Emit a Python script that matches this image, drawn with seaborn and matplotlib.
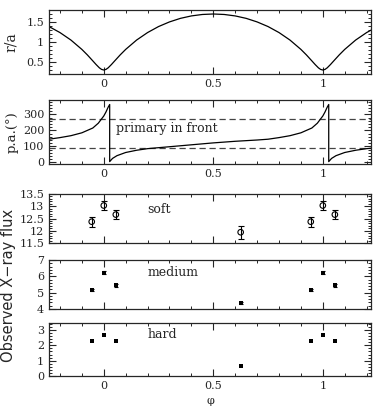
import matplotlib
matplotlib.use("Agg")
import matplotlib.pyplot as plt
from matplotlib.ticker import MultipleLocator
import seaborn as sns

# orbital separation r/a vs phase
sep_phase = [-0.25, -0.2, -0.15, -0.1, -0.075, -0.05, -0.035, -0.02, -0.01, 0.0,
             0.01, 0.02, 0.035, 0.05, 0.075, 0.1, 0.15, 0.2, 0.25, 0.3, 0.35,
             0.4, 0.45, 0.5, 0.55, 0.6, 0.65, 0.7, 0.75, 0.8, 0.85, 0.9, 0.925,
             0.95, 0.965, 0.98, 0.99, 1.0, 1.01, 1.02, 1.035, 1.05, 1.075, 1.1,
             1.15, 1.2, 1.25]
sep_r = [1.386, 1.236, 1.049, 0.815, 0.678, 0.528, 0.437, 0.354, 0.315, 0.300,
         0.315, 0.354, 0.437, 0.528, 0.678, 0.815, 1.049, 1.236, 1.386, 1.502, 1.591,
         1.652, 1.688, 1.700, 1.688, 1.652, 1.591, 1.502, 1.386, 1.236, 1.049, 0.815, 0.678,
         0.528, 0.437, 0.354, 0.315, 0.300, 0.315, 0.354, 0.437, 0.528, 0.678, 0.815,
         1.049, 1.236, 1.386]

# position angle vs phase
pa_phase = [-0.25, -0.2, -0.15, -0.1, -0.05, -0.025, 0.0, 0.01, 0.02, 0.027, 0.027,
            0.04, 0.06, 0.1, 0.15, 0.2, 0.3, 0.4, 0.5, 0.6, 0.7, 0.75, 0.8, 0.85,
            0.9, 0.95, 0.975, 1.0, 1.01, 1.02, 1.027, 1.027, 1.04, 1.06, 1.1, 1.15,
            1.2, 1.25]
pa_deg = [145, 155, 167, 185, 215, 245, 290, 315, 345, 362, 5,
          25, 42, 62, 76, 86, 98, 110, 122, 132, 140, 145, 155, 167,
          185, 215, 245, 290, 315, 345, 362, 5, 25, 42, 62, 76,
          86, 92]
pa_lines = [90, 270]

# X-ray fluxes
obs_phase = [-0.055, 0.0, 0.055, 0.625, 0.945, 1.0, 1.055]
soft = [12.37, 13.03, 12.66, 11.94, 12.37, 13.03, 12.66]
soft_err = [0.2, 0.2, 0.2, 0.27, 0.2, 0.2, 0.2]
medium = [5.17, 6.22, 5.45, 4.38, 5.17, 6.22, 5.45]
medium_err = [0.08, 0.1, 0.08, 0.05, 0.08, 0.1, 0.08]
hard = [2.26, 2.68, 2.26, 0.64, 2.26, 2.68, 2.26]

sns.set_style("ticks")
plt.rcParams['font.family'] = ['DejaVu Serif']
plt.rcParams['axes.linewidth'] = 0.9
for a in ['x', 'y']:
    plt.rcParams[a + 'tick.direction'] = 'in'
    plt.rcParams[a + 'tick.major.size'] = 5
    plt.rcParams[a + 'tick.minor.size'] = 2.5
    plt.rcParams[a + 'tick.major.width'] = 0.8
    plt.rcParams[a + 'tick.minor.width'] = 0.7
    plt.rcParams[a + 'tick.labelsize'] = 8
plt.rcParams['xtick.top'] = True
plt.rcParams['ytick.right'] = True

fig = plt.figure(figsize=(3.79, 4.08), dpi=100)
L, W = 0.1293, 0.8496
axs = [fig.add_axes([L, 0.8186, W, 0.1569]),
       fig.add_axes([L, 0.598, W, 0.1569]),
       fig.add_axes([L, 0.4044, W, 0.1201]),
       fig.add_axes([L, 0.2426, W, 0.1201]),
       fig.add_axes([L, 0.0784, W, 0.1299])]

# panel 1
ax = axs[0]
sns.lineplot(x=sep_phase, y=sep_r, ax=ax, color='black', lw=0.9, sort=False, estimator=None)
ax.set_ylim(0.2, 1.8)
ax.yaxis.set_minor_locator(MultipleLocator(0.1))
ax.set_yticks([0.5, 1.0, 1.5], ['0.5', '1', '1.5'])
ax.set_ylabel('r/a', fontsize=10, labelpad=6)

# panel 2
ax = axs[1]
for v in pa_lines:
    ax.axhline(v, color='#444444', lw=0.9, ls=(0, (5, 3)))
sns.lineplot(x=pa_phase, y=pa_deg, ax=ax, color='black', lw=0.9, sort=False, estimator=None)
ax.set_ylim(-10, 390)
ax.yaxis.set_minor_locator(MultipleLocator(20))
ax.set_yticks([0, 100, 200, 300])
ax.set_ylabel('p.a.(°)', fontsize=9.5, labelpad=3)
ax.text(0.055, 215, 'primary in front', fontsize=9, va='center')

# panel 3 soft
ax = axs[2]
sns.scatterplot(x=obs_phase, y=soft, ax=ax, marker='o', s=16, facecolor='none', edgecolor='black', linewidth=0.8, zorder=3)
ax.errorbar(obs_phase, soft, yerr=soft_err, fmt='none', ecolor='black', elinewidth=0.8, capsize=2, capthick=0.8, zorder=4)
ax.set_ylim(11.5, 13.5)
ax.yaxis.set_minor_locator(MultipleLocator(0.1))
ax.set_yticks([11.5, 12, 12.5, 13, 13.5], ['11.5', '12', '12.5', '13', '13.5'])
ax.text(0.2, 12.85, 'soft', fontsize=9, va='center')

# panel 4 medium
ax = axs[3]
ax.errorbar(obs_phase, medium, yerr=medium_err, fmt='none', ecolor='black', elinewidth=0.8, capsize=1.5, capthick=0.8)
sns.scatterplot(x=obs_phase, y=medium, ax=ax, marker='s', s=9, color='black', linewidth=0, zorder=3)
ax.set_ylim(4, 7)
ax.set_yticks([4, 5, 6, 7])
ax.yaxis.set_minor_locator(MultipleLocator(0.2))
ax.text(0.2, 6.25, 'medium', fontsize=9, va='center')

# panel 5 hard
ax = axs[4]
sns.scatterplot(x=obs_phase, y=hard, ax=ax, marker='s', s=12, color='black', linewidth=0, zorder=3)
ax.set_ylim(0, 3.45)
ax.set_yticks([0, 1, 2, 3])
ax.yaxis.set_minor_locator(MultipleLocator(0.2))
ax.text(0.2, 2.68, 'hard', fontsize=9, va='center')

for i, ax in enumerate(axs):
    ax.set_xlim(-0.25, 1.22)
    ax.set_xticks([0, 0.5, 1], ['0', '0.5', '1'])
    ax.xaxis.set_minor_locator(MultipleLocator(0.1))
    ax.tick_params(which='both', top=True, right=True, labelsize=8)
    ax.set_xlabel('')
    if i in (2, 3):
        ax.set_xticklabels([])

fig.text(0.555, 0.004, 'φ', ha='center', va='bottom', fontsize=8)
fig.text(0.022, 0.30, 'Observed X\u2212ray flux', rotation=90, va='center', ha='center',
         fontsize=10.5, family=['DejaVu Sans'])

fig.savefig('out.png', dpi=100)
